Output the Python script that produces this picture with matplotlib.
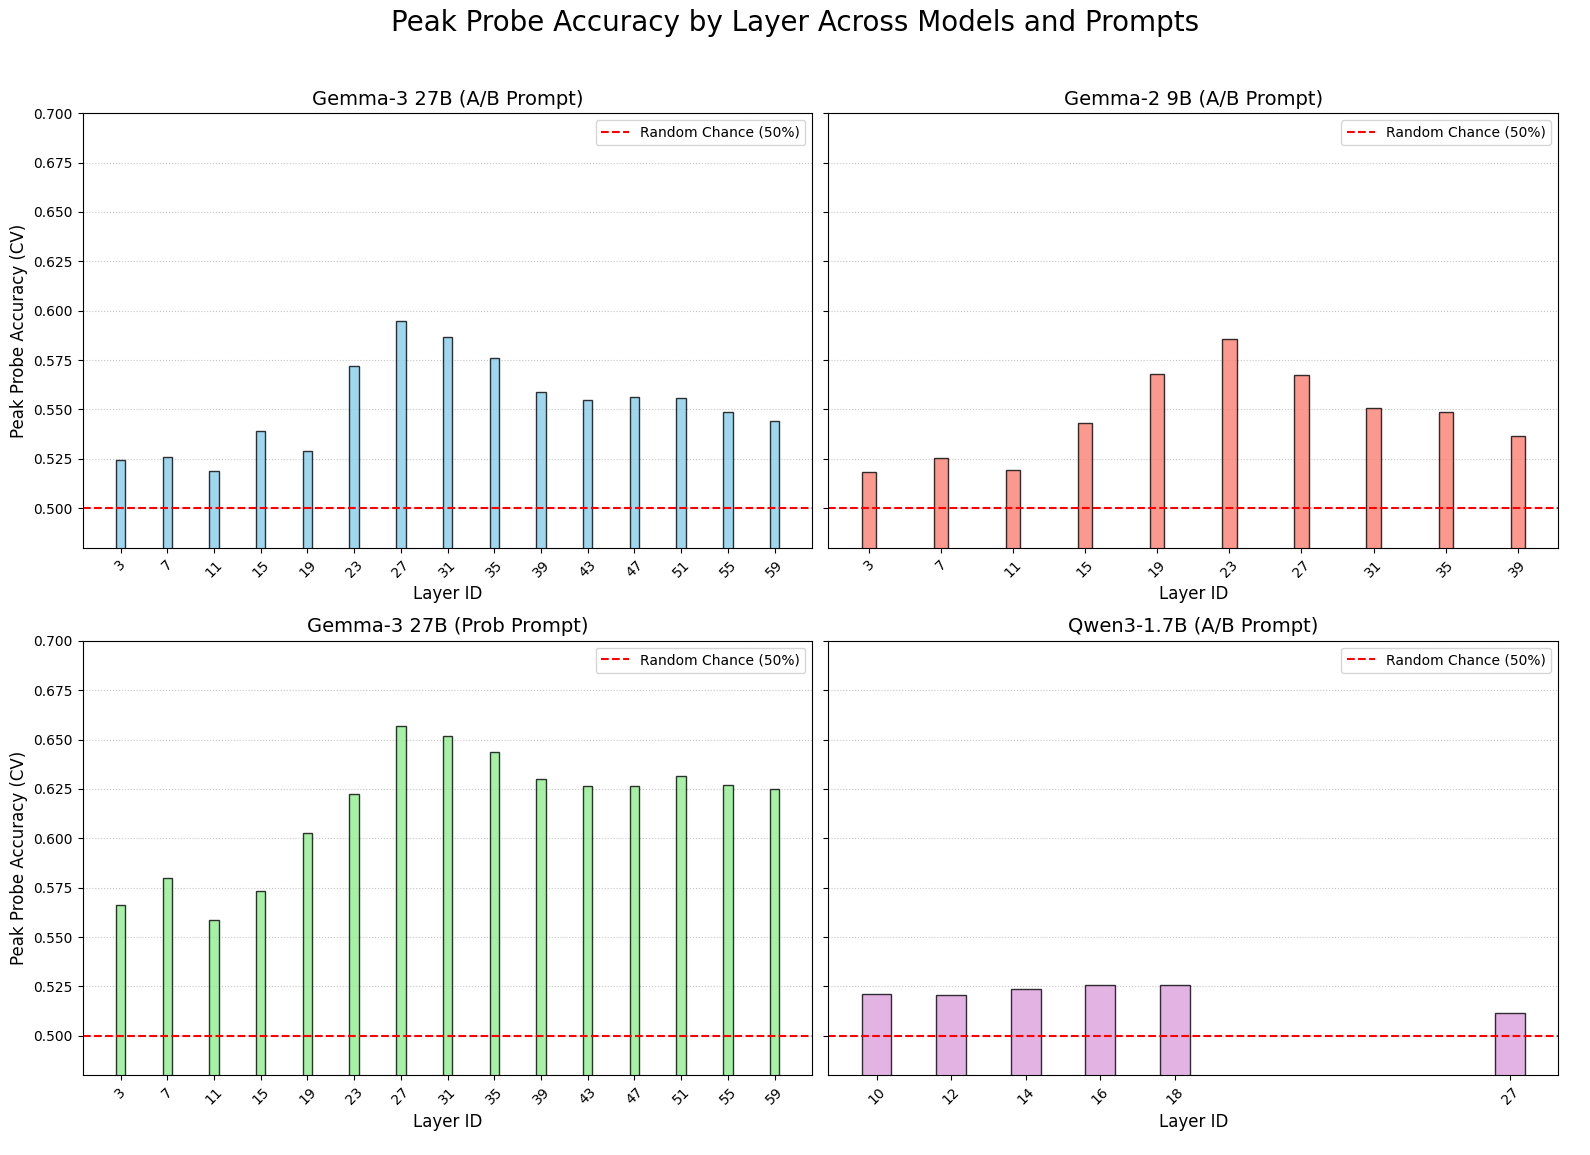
import matplotlib
matplotlib.use("Agg")
import matplotlib.pyplot as plt

suptitle = "Peak Probe Accuracy by Layer Across Models and Prompts"

titles = ["Gemma-3 27B (A/B Prompt)", "Gemma-2 9B (A/B Prompt)",
          "Gemma-3 27B (Prob Prompt)", "Qwen3-1.7B (A/B Prompt)"]
colors = ["skyblue", "salmon", "lightgreen", "plum"]

layers_g3_ab = [3, 7, 11, 15, 19, 23, 27, 31, 35, 39, 43, 47, 51, 55, 59]
acc_g3_ab = [0.5245, 0.526, 0.519, 0.539, 0.529, 0.572, 0.595, 0.5865, 0.576,
             0.5588, 0.5548, 0.5563, 0.5558, 0.5485, 0.544]

layers_g2_ab = [3, 7, 11, 15, 19, 23, 27, 31, 35, 39]
acc_g2_ab = [0.5183, 0.5253, 0.5195, 0.543, 0.5678, 0.5858, 0.5673, 0.5508,
             0.5488, 0.5368]

layers_g3_prob = [3, 7, 11, 15, 19, 23, 27, 31, 35, 39, 43, 47, 51, 55, 59]
acc_g3_prob = [0.566, 0.580, 0.5585, 0.5735, 0.6025, 0.6225, 0.657, 0.652,
               0.6437, 0.630, 0.6265, 0.6265, 0.6315, 0.627, 0.6247]

layers_qwen = [10, 12, 14, 16, 18, 27]
acc_qwen = [0.521, 0.5205, 0.5235, 0.5255, 0.5255, 0.5114]

panels = [(layers_g3_ab, acc_g3_ab), (layers_g2_ab, acc_g2_ab),
          (layers_g3_prob, acc_g3_prob), (layers_qwen, acc_qwen)]

fig, axes = plt.subplots(2, 2, figsize=(15.9, 11.55), dpi=100, sharey=True)
fig.subplots_adjust(left=0.052, right=0.98, top=0.902, bottom=0.069,
                    wspace=0.022, hspace=0.214)
fig.suptitle(suptitle, fontsize=20, y=0.992)

for i, (ax, (lay, acc)) in enumerate(zip(axes.flat, panels)):
    ax.bar(lay, acc, width=0.8, color=colors[i], edgecolor="black", alpha=0.8)
    ax.axhline(0.5, color="red", linestyle="--", linewidth=1.5,
               label="Random Chance (50%)")
    ax.set_title(titles[i], fontsize=14)
    ax.set_xlabel("Layer ID", fontsize=12)
    ax.set_xticks(lay)
    ax.set_xticklabels([str(l) for l in lay], rotation=45)
    ax.grid(axis="y", linestyle=":", alpha=0.7)
    ax.set_axisbelow(True)
    ax.legend(loc="upper right", fontsize=10)
    if i % 2 == 0:
        ax.set_ylabel("Peak Probe Accuracy (CV)", fontsize=12)

axes[0, 0].set_ylim(0.48, 0.70)

fig.savefig("out.png", dpi=100)
